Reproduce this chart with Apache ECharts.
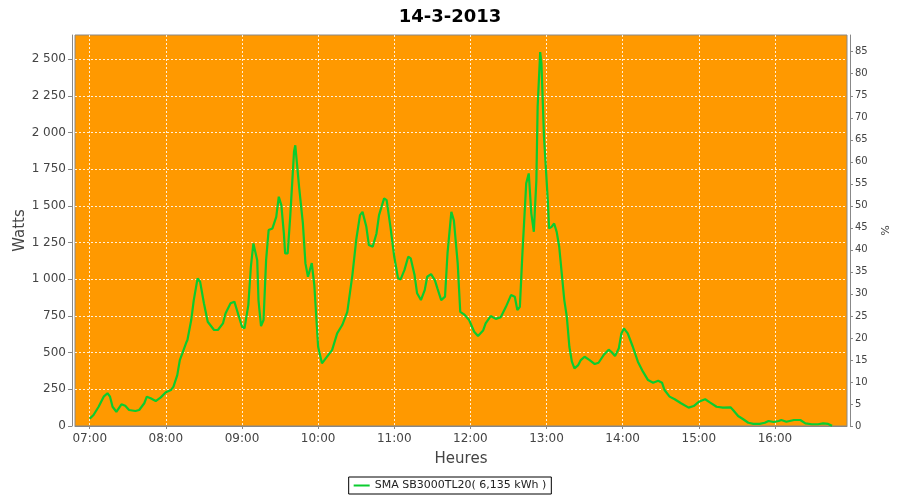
<!DOCTYPE html>
<html><head><meta charset="utf-8">
<script src="https://cdn.jsdelivr.net/npm/echarts@6/dist/echarts.min.js"></script>
<style>html,body{margin:0;padding:0;background:#fff}#c{width:900px;height:500px}</style>
</head><body><div id="c"></div>
<script>
const chartTitle = '14-3-2013';
const seriesName = 'SMA SB3000TL20( 6,135 kWh )';
const times = ['07:00','07:03','07:07','07:11','07:14','07:16','07:18','07:21','07:25','07:28','07:31','07:36','07:39','07:43','07:45','07:48','07:52','07:56',
'08:00','08:04','08:06','08:09','08:11','08:13','08:16','08:17','08:20','08:22','08:25','08:27','08:30','08:33','08:38','08:41','08:45','08:47','08:51','08:54','08:56',
'09:00','09:02','09:05','09:07','09:09','09:12','09:13','09:15','09:17','09:19','09:21','09:24','09:27','09:29','09:31','09:33','09:34','09:36','09:38','09:41','09:42','09:45','09:48','09:50','09:52','09:55','09:57',
'10:00','10:03','10:06','10:09','10:11','10:15','10:19','10:23','10:27','10:30','10:33','10:35','10:38','10:40','10:43','10:46','10:48','10:52','10:54','10:57',
'11:00','11:03','11:05','11:08','11:11','11:13','11:16','11:18','11:21','11:24','11:26','11:29','11:32','11:34','11:37','11:40','11:42','11:45','11:47','11:50','11:52','11:55','11:59',
'12:03','12:06','12:10','12:12','12:16','12:20','12:24','12:28','12:32','12:35','12:37','12:39','12:41','12:44','12:46','12:48','12:50','12:52','12:53','12:55','12:56','12:58',
'13:01','13:02','13:04','13:06','13:08','13:10','13:12','13:14','13:16','13:18','13:20','13:22','13:25','13:27','13:30','13:34','13:38','13:41','13:45','13:49','13:51','13:54','13:57','13:59',
'14:01','14:04','14:08','14:12','14:16','14:20','14:24','14:28','14:31','14:33','14:37','14:41','14:46','14:52','14:56',
'15:00','15:05','15:09','15:14','15:19','15:25','15:27','15:31','15:35','15:39','15:43','15:48','15:52','15:55','15:59',
'16:03','16:05','16:09','16:15','16:20','16:24','16:29','16:34','16:38','16:42','16:45'];
const watts = [50,75,131,200,223,200,131,97,148,138,109,102,109,155,200,189,170,195,
230,245,268,347,449,495,567,586,722,858,1006,983,836,710,654,654,699,767,836,847,790,
676,665,824,1085,1244,1130,858,681,722,1130,1335,1346,1425,1562,1505,1312,1176,1176,1425,1868,1913,1630,1380,1108,1017,1110,960,
540,427,461,495,517,631,688,778,1028,1267,1437,1459,1357,1233,1221,1312,1437,1551,1539,1357,
1153,1006,999,1062,1153,1142,1028,904,858,926,1017,1035,994,938,858,881,1180,1459,1400,1108,778,761,722,
642,613,650,699,749,730,742,812,892,881,790,812,1176,1653,1721,1449,1323,1675,2175,2547,2470,1970,
1539,1346,1357,1380,1323,1221,1040,858,744,540,438,393,415,449,472,449,422,431,483,520,506,477,530,631,
665,631,540,438,370,313,295,308,295,245,200,182,155,125,136,
165,182,159,131,125,127,109,68,46,22,14,14,22,34,27,
34,41,29,41,41,18,12,12,18,14,2];
const hourTicks = ['07:00','08:00','09:00','10:00','11:00','12:00','13:00','14:00','15:00','16:00'];
const wattTicks = [0,250,500,750,1000,1250,1500,1750,2000,2250,2500];
const pctTicks = [0,5,10,15,20,25,30,35,40,45,50,55,60,65,70,75,80,85];

const toMin = s => { const p = s.split(':'); return (+p[0]) * 60 + (+p[1]); };
const pad = n => (n < 10 ? '0' : '') + n;
const fmtTime = v => pad(Math.floor(v / 60)) + ':' + pad(Math.round(v % 60));
const fmtW = v => String(v).replace(/\B(?=(\d{3})+(?!\d))/g, ' ');

const FONT = 'DejaVu Sans';
const GREEN = '#0bcc2f';
const chart = echarts.init(document.getElementById('c'), null, {renderer: 'canvas'});
chart.setOption({
  animation: false,
  backgroundColor: '#ffffff',
  title: {
    text: chartTitle, left: 'center', top: 3,
    textStyle: {fontFamily: FONT, fontWeight: 'bold', fontSize: 18, color: '#000'}
  },
  legend: {
    data: [{name: seriesName, icon: 'rect'}], left: 'center', top: 477,
    borderColor: '#000', borderWidth: 1, backgroundColor: '#fff', borderRadius: 0,
    padding: [3, 5], itemWidth: 16, itemHeight: 2, itemGap: 4,
    textStyle: {fontFamily: FONT, fontSize: 11, color: '#222'}
  },
  grid: {
    left: 75, right: 53, top: 35, bottom: 74,
    show: true, backgroundColor: '#ff9900', borderColor: '#888', borderWidth: 1
  },
  xAxis: {
    type: 'value', min: 408.4, max: 1016.8, offset: 2,
    name: 'Heures', nameLocation: 'middle', nameGap: 24,
    nameTextStyle: {fontFamily: FONT, fontSize: 15, color: '#444'},
    axisLine: {show: true, lineStyle: {color: '#888'}},
    axisTick: {show: true, length: 3, lineStyle: {color: '#888'}, customValues: hourTicks.map(toMin)},
    axisLabel: {customValues: hourTicks.map(toMin), formatter: fmtTime, margin: 5,
      fontFamily: FONT, fontSize: 12, color: '#444'},
    splitLine: {show: true, lineStyle: {color: '#fff', type: [2, 2], width: 1, opacity: 0.85}}
  },
  yAxis: [{
    type: 'value', min: 0, max: 2664, position: 'left', offset: 3,
    name: 'Watts', nameLocation: 'middle', nameGap: 44, nameMoveOverlap: false,
    nameTextStyle: {fontFamily: FONT, fontSize: 15, color: '#444'},
    axisLine: {show: true, lineStyle: {color: '#888'}},
    axisTick: {show: true, length: 4, lineStyle: {color: '#888'}, customValues: wattTicks},
    axisLabel: {customValues: wattTicks, formatter: fmtW, margin: 6,
      fontFamily: FONT, fontSize: 12, color: '#444'},
    splitLine: {show: true, lineStyle: {color: '#fff', type: [2, 2], width: 1, opacity: 0.85}}
  }, {
    type: 'value', min: 0, max: 88.8, position: 'right', offset: 3,
    name: '%', nameLocation: 'middle', nameGap: 19, nameRotate: -90,
    nameTextStyle: {fontFamily: FONT, fontSize: 11, color: '#444'},
    axisLine: {show: true, lineStyle: {color: '#888'}},
    axisTick: {show: true, length: 3, lineStyle: {color: '#888'}, customValues: pctTicks},
    axisLabel: {customValues: pctTicks, margin: 5, fontFamily: FONT, fontSize: 10, color: '#444'},
    splitLine: {show: false}
  }],
  series: [{
    name: seriesName, type: 'line', yAxisIndex: 0, xAxisIndex: 0,
    symbol: 'none', smooth: false,
    lineStyle: {color: GREEN, width: 2.2},
    itemStyle: {color: GREEN},
    data: times.map((t, i) => [toMin(t), watts[i]])
  }]
});
</script></body></html>
